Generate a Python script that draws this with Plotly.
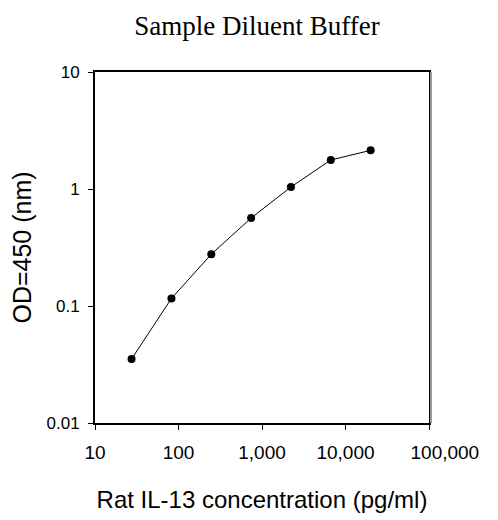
import plotly.graph_objects as go

concentration = [27.4, 82.3, 247, 741, 2222, 6667, 20000]
od450 = [0.0352, 0.116, 0.277, 0.565, 1.04, 1.77, 2.14]

x_tickvals = [10, 100, 1000, 10000, 100000]
x_ticktext = ["10", "100", "1,000", "10,000", "\u00a0\u00a0\u00a0\u00a0\u00a0\u00a0100,000"]
y_tickvals = [0.01, 0.1, 1, 10]
y_ticktext = ["0.01", "0.1", "1", "10"]

fig = go.Figure()
fig.add_trace(go.Scatter(
    x=concentration, y=od450, mode="lines+markers",
    line=dict(color="black", width=1),
    marker=dict(color="black", size=8),
    showlegend=False,
))

fig.update_layout(
    width=498, height=520,
    paper_bgcolor="white", plot_bgcolor="white",
    margin=dict(l=87, r=77, t=64, b=105),
    title=dict(text="Sample Diluent Buffer", x=0.5, xanchor="center", y=0.967, yanchor="middle",
               font=dict(family="Liberation Serif", size=27, color="black")),
    font=dict(family="Liberation Sans", color="black"),
    shapes=[dict(type="line", xref="paper", yref="paper", x0=1.006, x1=1.006, y0=0, y1=1,
                 line=dict(color="#999999", width=2))],
)
fig.update_xaxes(
    type="log", range=[1, 5],
    tickvals=x_tickvals, ticktext=x_ticktext,
    tickangle=0, automargin=False,
    ticks="outside", ticklen=5, tickcolor="black", tickwidth=1,
    ticklabelstandoff=6,
    showline=True, linecolor="black", linewidth=2, mirror=True,
    showgrid=False, zeroline=False,
    tickfont=dict(size=19, family="Liberation Sans"),
    title=dict(text="Rat IL-13 concentration (pg/ml)", standoff=29,
               font=dict(size=24, family="Liberation Sans")),
)
fig.update_yaxes(
    type="log", range=[-2, 1],
    tickvals=y_tickvals, ticktext=y_ticktext,
    automargin=False,
    ticks="outside", ticklen=5, tickcolor="black", tickwidth=1,
    ticklabelstandoff=5,
    showline=True, linecolor="black", linewidth=2, mirror=True,
    showgrid=False, zeroline=False,
    tickfont=dict(size=17, family="Liberation Sans"),
    title=dict(text="OD=450 (nm)", standoff=9,
               font=dict(size=25, family="Liberation Sans")),
)

fig.write_html("out.html")
